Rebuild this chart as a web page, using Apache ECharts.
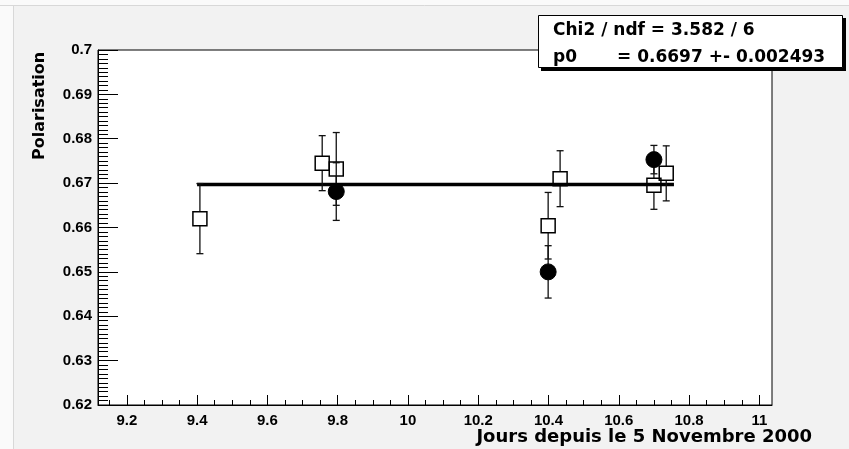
<!DOCTYPE html>
<html>
<head>
<meta charset="utf-8">
<script src="https://cdn.jsdelivr.net/npm/echarts@6/dist/echarts.min.js"></script>
<style>html,body{margin:0;padding:0;background:#fff;}#c{width:849px;height:449px;}</style>
</head>
<body>
<div id="c"></div>
<script>
// ---- data ----
const squaresX   = [9.408, 9.756, 9.796, 10.399, 10.433, 10.700, 10.735];
const squaresY   = [0.6620, 0.6745, 0.6732, 0.6604, 0.6710, 0.6695, 0.6722];
const squaresErr = [0.0079, 0.0062, 0.0082, 0.0075, 0.0063, 0.0054, 0.0062];

const circlesX   = [9.796, 10.399, 10.700];
const circlesY   = [0.6681, 0.6500, 0.6753];
const circlesErr = [0.0065, 0.0059, 0.0032];

const fitValue = 0.6697;
const fitRange = [9.400, 10.757];

const xMin = 9.118, xMax = 11.036;
const yMin = 0.62, yMax = 0.70, yInterval = 0.01;
const xMajorTicks = [9.2, 9.4, 9.6, 9.8, 10.0, 10.2, 10.4, 10.6, 10.8, 11.0];
const xTickLabels = ['9.2', '9.4', '9.6', '9.8', '10', '10.2', '10.4', '10.6', '10.8', '11'];
const xMinorTicks = [9.15, 9.25, 9.3, 9.35, 9.45, 9.5, 9.55, 9.65, 9.7, 9.75, 9.85, 9.9, 9.95,
                     10.05, 10.1, 10.15, 10.25, 10.3, 10.35, 10.45, 10.5, 10.55, 10.65, 10.7, 10.75,
                     10.85, 10.9, 10.95];
const xTitle = 'Jours depuis le 5 Novembre 2000';
const yTitle = 'Polarisation';
const statsLine1 = 'Chi2 / ndf = 3.582 / 6';
const statsLabel2 = 'p0';
const statsValue2 = '= 0.6697 +- 0.002493';

// ---- build ----
const squares = squaresX.map((x, i) => [x, squaresY[i], squaresErr[i]]);
const circles = circlesX.map((x, i) => [x, circlesY[i], circlesErr[i]]);
const fitLine = fitRange.map(x => [x, fitValue]);

const TICK_FONT = {fontFamily: 'Liberation Sans', fontWeight: 'bold', fontSize: 15, color: '#000'};

function makeRender(kind) {
  return function (params, api) {
    const x = api.value(0), y = api.value(1), e = api.value(2);
    const c = api.coord([x, y]);
    const t = api.coord([x, y + e]);
    const b = api.coord([x, y - e]);
    const half = kind === 'square' ? 7 : 8;
    const cap = 3.5;
    const ls = {stroke: '#111', lineWidth: 1.3};
    const children = [];
    if (t[1] < c[1] - half) children.push({type: 'line', shape: {x1: c[0], y1: t[1], x2: c[0], y2: c[1] - half}, style: ls});
    if (b[1] > c[1] + half) children.push({type: 'line', shape: {x1: c[0], y1: c[1] + half, x2: c[0], y2: b[1]}, style: ls});
    children.push({type: 'line', shape: {x1: c[0] - cap, y1: t[1], x2: c[0] + cap, y2: t[1]}, style: ls});
    children.push({type: 'line', shape: {x1: c[0] - cap, y1: b[1], x2: c[0] + cap, y2: b[1]}, style: ls});
    if (kind === 'square') {
      children.push({type: 'rect', shape: {x: c[0] - half, y: c[1] - half, width: half * 2, height: half * 2},
        style: {fill: 'none', stroke: '#000', lineWidth: 1.5}});
    } else {
      children.push({type: 'circle', shape: {cx: c[0], cy: c[1], r: half}, style: {fill: '#000', stroke: '#000'}});
    }
    return {type: 'group', children: children};
  };
}

const chart = echarts.init(document.getElementById('c'), null, {renderer: 'canvas'});
chart.setOption({
  animation: false,
  backgroundColor: '#f2f2f2',
  grid: {left: 98, top: 50, width: 674, height: 355, show: true, backgroundColor: '#fff',
         borderColor: '#000', borderWidth: 1, containLabel: false},
  xAxis: [{
    type: 'value', min: xMin, max: xMax, position: 'bottom',
    axisLine: {show: true, onZero: false, lineStyle: {color: '#000', width: 1}},
    axisTick: {show: true, inside: true, length: 10, customValues: xMajorTicks, lineStyle: {color: '#000', width: 1}},
    axisLabel: Object.assign({show: true, margin: 8, customValues: xMajorTicks,
      formatter: v => xTickLabels[xMajorTicks.findIndex(t => Math.abs(t - v) < 1e-6)] || ''}, TICK_FONT),
    splitLine: {show: false}
  }, {
    type: 'value', min: xMin, max: xMax, position: 'bottom', offset: 0,
    axisLine: {show: false, onZero: false},
    axisTick: {show: true, inside: true, length: 5, customValues: xMinorTicks, lineStyle: {color: '#000', width: 1}},
    axisLabel: {show: false},
    splitLine: {show: false}
  }],
  yAxis: {
    type: 'value', min: yMin, max: yMax, interval: yInterval,
    axisLine: {show: true, onZero: false, lineStyle: {color: '#000', width: 1}},
    axisTick: {show: true, inside: true, length: 20, lineStyle: {color: '#000', width: 1}},
    minorTick: {show: true, splitNumber: 10, length: 10, lineStyle: {color: '#000', width: 1}},
    axisLabel: Object.assign({show: true, margin: 6, formatter: v => String(+(+v).toFixed(3))}, TICK_FONT),
    splitLine: {show: false}, minorSplitLine: {show: false}
  },
  graphic: [
    {type: 'line', shape: {x1: 0, y1: 5.5, x2: 849, y2: 5.5}, style: {stroke: '#d8d8d8', lineWidth: 1}, z: -1},
    {type: 'rect', shape: {x: 0, y: 0, width: 849, height: 5}, style: {fill: '#fafafa'}, z: -1},
    {type: 'line', shape: {x1: 13.5, y1: 5, x2: 13.5, y2: 449}, style: {stroke: '#d8d8d8', lineWidth: 1}, z: -1},
    {type: 'rect', shape: {x: 0, y: 6, width: 13, height: 443}, style: {fill: '#fafafa'}, z: -1},
    {type: 'text', x: 812, y: 437, style: {text: xTitle, fontFamily: 'DejaVu Sans', fontWeight: 'bold', fontSize: 18,
      fill: '#000', align: 'right', verticalAlign: 'middle'}},
    {type: 'text', x: 40, y: 160, rotation: Math.PI / 2, style: {text: yTitle, fontFamily: 'DejaVu Sans', fontWeight: 'bold',
      fontSize: 16, fill: '#000', align: 'left', verticalAlign: 'middle'}},
    {type: 'rect', shape: {x: 541, y: 18, width: 305, height: 53}, style: {fill: '#000'}, z: 100},
    {type: 'rect', shape: {x: 538.5, y: 15.5, width: 304, height: 52}, style: {fill: '#fff', stroke: '#000', lineWidth: 1}, z: 101},
    {type: 'text', x: 553, y: 31, z: 102, style: {text: statsLine1, fontFamily: 'DejaVu Sans', fontWeight: 'bold', fontSize: 17,
      fill: '#000', align: 'left', verticalAlign: 'middle'}},
    {type: 'text', x: 553, y: 58, z: 102, style: {text: statsLabel2, fontFamily: 'DejaVu Sans', fontWeight: 'bold', fontSize: 17,
      fill: '#000', align: 'left', verticalAlign: 'middle'}},
    {type: 'text', x: 617, y: 58, z: 102, style: {text: statsValue2, fontFamily: 'DejaVu Sans', fontWeight: 'bold', fontSize: 17,
      fill: '#000', align: 'left', verticalAlign: 'middle'}}
  ],
  series: [
    {type: 'line', name: 'fit', data: fitLine, xAxisIndex: 0, symbol: 'none', z: 2,
     lineStyle: {color: '#000', width: 3.5}},
    {type: 'custom', name: 'squares', data: squares, xAxisIndex: 0, renderItem: makeRender('square'), z: 3,
     encode: {x: 0, y: 1}},
    {type: 'custom', name: 'circles', data: circles, xAxisIndex: 0, renderItem: makeRender('circle'), z: 4,
     encode: {x: 0, y: 1}}
  ]
});
</script>
</body>
</html>
